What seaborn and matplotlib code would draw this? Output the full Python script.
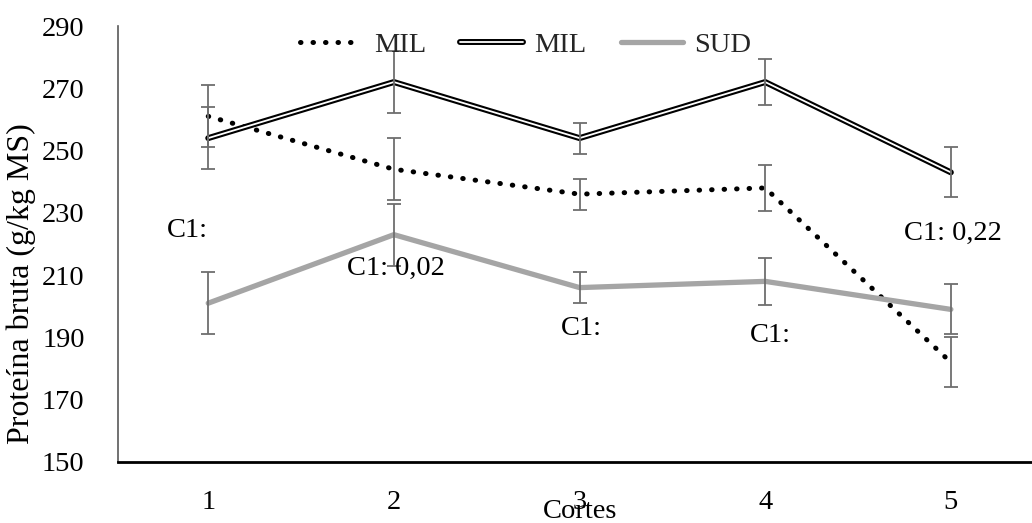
import matplotlib
matplotlib.use('Agg')
import numpy as np
import pandas as pd
import seaborn as sns
import matplotlib.pyplot as plt
from matplotlib import patheffects as pe

# ---- data ----
cortes = [1, 2, 3, 4, 5]
mil_das = [261, 244, 236, 238, 182]
mil_aks = [254, 272, 254, 272, 243]
sud = [201, 223, 206, 208, 199]
err = [10, 10, 5, 7.5, 8]
series_labels = ['MIL', 'MIL', 'SUD']
ann_text = ['C1:', 'C1: 0,02', 'C1:', 'C1:', 'C1: 0,22']
yticks = [150, 170, 190, 210, 230, 250, 270, 290]

sns.set_theme(style='white')
plt.rcParams['font.family'] = ['Liberation Serif', 'DejaVu Serif']
FS = 20.5

fig = plt.figure(figsize=(10.32, 5.23), dpi=100)
ax = fig.add_axes([118 / 1032, 61 / 523, 914 / 1032, 436 / 523])

ecol = '#6E6E6E'
for s in (mil_das, mil_aks, sud):
    ax.errorbar(cortes, s, yerr=err, fmt='none', ecolor=ecol, elinewidth=1.3,
                capsize=5, capthick=1.3, zorder=4)

sns.lineplot(x=cortes, y=mil_das, ax=ax, color='black', lw=3.6,
             linestyle=(0, (0.1, 2.4)), dash_capstyle='round',
             label=series_labels[0], zorder=3)
sns.lineplot(x=cortes, y=mil_aks, ax=ax, color='white', lw=1.3,
             path_effects=[pe.Stroke(linewidth=4.3, foreground='black'), pe.Normal()],
             label=series_labels[1], zorder=3)
sns.lineplot(x=cortes, y=sud, ax=ax, color='#A5A5A5', lw=3.8,
             label=series_labels[2], zorder=3)

ann_pos = [(0.89, 224.3), (2.01, 212.1), (3.01, 192.8), (4.03, 190.6), (5.01, 223.4)]
for t, (x, y) in zip(ann_text, ann_pos):
    ax.text(x, y, t, ha='center', va='center', fontsize=FS, color='black', zorder=5)

ax.set_ylim(150, 290)
ax.set_yticks(yticks)
ax.set_xlim(0.514, 5.437)
ax.set_xticks(cortes)
ax.set_xticklabels([str(c) for c in cortes])

for sp in ('top', 'right'):
    ax.spines[sp].set_visible(False)
ax.spines['left'].set_color('#595959')
ax.spines['left'].set_linewidth(1.2)
ax.spines['bottom'].set_color('black')
ax.spines['bottom'].set_linewidth(2)

ax.tick_params(axis='y', direction='in', length=7, width=1, color='#595959',
               labelsize=FS, pad=24, labelcolor='black')
ax.tick_params(axis='x', length=0, labelsize=FS, pad=20, labelcolor='black')

ax.set_ylabel('Proteína bruta (g/kg MS)', fontsize=23, color='black')
ax.yaxis.set_label_coords(-0.09, 0.41)
ax.set_xlabel('Cortes', fontsize=FS, color='black')
ax.xaxis.set_label_coords(0.505, -0.085)

leg = ax.legend(loc='center', bbox_to_anchor=(0.446, 0.956), ncol=3, frameon=False,
                fontsize=FS, handlelength=2.2, columnspacing=1.2, handletextpad=0.4,
                borderaxespad=0)

fig.savefig('out.png', dpi=100)
